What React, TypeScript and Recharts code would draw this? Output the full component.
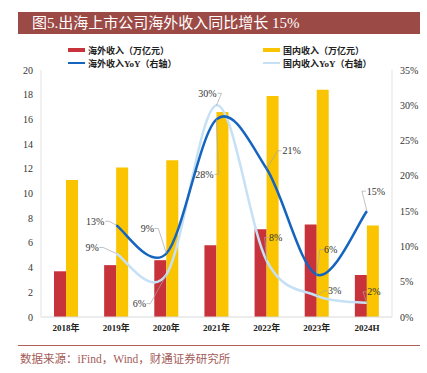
import React from "react"
import {
  ComposedChart,
  Bar,
  Line,
  XAxis,
  YAxis,
} from "recharts"

const years = ["2018年", "2019年", "2020年", "2021年", "2022年", "2023年", "2024H"]
const overseasRevenue = [3.7, 4.2, 4.6, 5.8, 7.1, 7.5, 3.4]
const domesticRevenue = [11.1, 12.1, 12.7, 16.6, 17.9, 18.4, 7.4]
const overseasYoY = [null, 13, 9, 28, 21, 6, 15]
const domesticYoY = [null, 9, 6, 30, 8, 3, 2]
const leftTicks = [0, 2, 4, 6, 8, 10, 12, 14, 16, 18, 20]
const rightTicks = [0, 5, 10, 15, 20, 25, 30, 35]

// label placement, relative to the point
const overseasLabelPos = [null, [-21, -4], [-19, -25], [-12, 55], [25, -18], [14, -25], [9, -20]]
const domesticLabelPos = [null, [-24, -6], [-27, 29], [-9, -12], [9, -23], [18, -5], [7, -11]]

const data = years.map((y, i) => ({
  year: y,
  overseas: overseasRevenue[i],
  domestic: domesticRevenue[i],
  overseasYoY: overseasYoY[i],
  domesticYoY: domesticYoY[i],
}))

const RED = "#C8323A"
const YELLOW = "#FAC400"
const DARK_BLUE = "#1565C0"
const LIGHT_BLUE = "#C6E0F5"
const SERIF = "'Liberation Serif', 'Noto Sans CJK SC', serif"

// Excel-like smoothed line (Catmull-Rom through the points)
function smoothCurve(context: any) {
  let pts: number[][] = []
  return {
    areaStart() {},
    areaEnd() {},
    lineStart() {
      pts = []
    },
    point(x: number, y: number) {
      pts.push([+x, +y])
    },
    lineEnd() {
      if (!pts.length) return
      context.moveTo(pts[0][0], pts[0][1])
      for (let i = 0; i < pts.length - 1; i++) {
        const p0 = pts[i - 1] || pts[i]
        const p1 = pts[i]
        const p2 = pts[i + 1]
        const p3 = pts[i + 2] || p2
        context.bezierCurveTo(
          p1[0] + (p2[0] - p0[0]) / 6,
          p1[1] + (p2[1] - p0[1]) / 6,
          p2[0] - (p3[0] - p1[0]) / 6,
          p2[1] - (p3[1] - p1[1]) / 6,
          p2[0],
          p2[1]
        )
      }
    },
  }
}

function makeLabel(pos: any[]) {
  return (props: any) => {
    const { x, y, value, index } = props
    if (value == null || !pos[index]) return null
    const [dx, dy] = pos[index]
    const tx = x + dx
    const ty = y + dy
    const half = String(value).length >= 2 ? 9 : 6
    const ex = dx < 0 ? tx + half + 1 : tx - half - 1
    return (
      <g>
        <polyline
          points={`${ex},${ty} ${ex + (dx < 0 ? 4 : -4)},${ty} ${x},${y}`}
          fill="none"
          stroke="#A6A6A6"
          strokeWidth={0.7}
        />
        <text
          x={tx}
          y={ty}
          textAnchor="middle"
          dominantBaseline="central"
          fontSize={10}
          fontFamily={SERIF}
          fill="#333"
        >
          {value}%
        </text>
      </g>
    )
  }
}

const legendItems = [
  { name: "海外收入（万亿元）", color: RED, kind: "bar", x: 68, y: 50 },
  { name: "国内收入（万亿元）", color: YELLOW, kind: "bar", x: 263, y: 50 },
  { name: "海外收入YoY（右轴）", color: DARK_BLUE, kind: "line", x: 68, y: 63 },
  { name: "国内收入YoY（右轴）", color: LIGHT_BLUE, kind: "line", x: 263, y: 63 },
]

export default function App() {
  return (
    <div
      style={{
        position: "fixed",
        left: 0,
        top: 0,
        width: 427,
        height: 373,
        background: "#fff",
        fontFamily: SERIF,
      }}
    >
      <div
        style={{
          position: "absolute",
          left: 18,
          top: 12,
          width: 402,
          height: 22,
          background: "#9C4A46",
          color: "#fff",
          fontSize: 15,
          lineHeight: "22px",
          paddingLeft: 14,
          boxSizing: "border-box",
          whiteSpace: "nowrap",
        }}
      >
        图5.出海上市公司海外收入同比增长 15%
      </div>

      {legendItems.map((it) => (
        <div
          key={it.name}
          style={{
            position: "absolute",
            left: it.x,
            top: it.y - 6,
            height: 12,
            display: "flex",
            alignItems: "center",
            fontSize: 9,
            fontWeight: "bold",
            color: "#222",
            whiteSpace: "nowrap",
          }}
        >
          <span
            style={{
              display: "inline-block",
              width: 17,
              height: it.kind === "bar" ? 4 : 2.5,
              background: it.color,
              marginRight: 3,
            }}
          />
          {it.name}
        </div>
      ))}

      <div style={{ position: "absolute", left: 0, top: 0 }}>
        <ComposedChart
          width={427}
          height={373}
          data={data}
          margin={{ top: 70, right: 0, bottom: 26, left: 0 }}
          barGap={0}
        >
          <XAxis
            dataKey="year"
            height={30}
            axisLine={{ stroke: "#D9D9D9" }}
            tickLine={false}
            tick={{ fontSize: 9, fontWeight: "bold", fill: "#222", fontFamily: SERIF }}
            interval={0}
          />
          <YAxis
            yAxisId="left"
            domain={[0, 20]}
            ticks={leftTicks}
            width={41}
            axisLine={{ stroke: "#E3E3E3" }}
            tickLine={false}
            tick={{ fontSize: 10, fill: "#333", fontFamily: SERIF }}
            interval={0}
          />
          <YAxis
            yAxisId="right"
            orientation="right"
            domain={[0, 35]}
            ticks={rightTicks}
            width={35}
            axisLine={{ stroke: "#E3E3E3" }}
            tickLine={false}
            tick={{ fontSize: 10, fill: "#333", fontFamily: SERIF }}
            tickFormatter={(v: number) => `${v}%`}
            interval={0}
          />
          <Bar yAxisId="left" dataKey="overseas" fill={RED} barSize={12} isAnimationActive={false} />
          <Bar yAxisId="left" dataKey="domestic" fill={YELLOW} barSize={12} isAnimationActive={false} />
          <Line
            yAxisId="right"
            dataKey="domesticYoY"
            type={smoothCurve as any}
            stroke={LIGHT_BLUE}
            strokeWidth={2.5}
            dot={false}
            isAnimationActive={false}
            label={makeLabel(domesticLabelPos)}
          />
          <Line
            yAxisId="right"
            dataKey="overseasYoY"
            type={smoothCurve as any}
            stroke={DARK_BLUE}
            strokeWidth={2.5}
            dot={false}
            isAnimationActive={false}
            label={makeLabel(overseasLabelPos)}
          />
        </ComposedChart>
      </div>

      <div
        style={{
          position: "absolute",
          left: 18,
          top: 345,
          width: 402,
          borderTop: "1px solid #B0605B",
        }}
      />
      <div
        style={{
          position: "absolute",
          left: 20,
          top: 350,
          fontSize: 11.5,
          color: "#A35C58",
          whiteSpace: "nowrap",
        }}
      >
        数据来源：iFind，Wind，财通证券研究所
      </div>
    </div>
  )
}
